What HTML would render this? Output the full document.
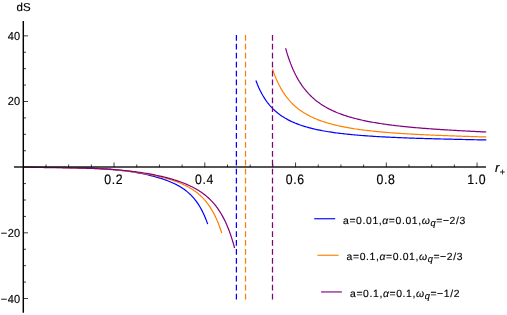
<!DOCTYPE html>
<html><head><meta charset="utf-8"><title>plot</title>
<style>
html,body{margin:0;padding:0;background:#fff;}
body{width:507px;height:315px;overflow:hidden;font-family:"Liberation Sans",sans-serif;}
svg{display:block;}
text{font-family:"Liberation Sans",sans-serif;fill:#000;stroke:#000;stroke-width:0.16px;text-rendering:geometricPrecision;}
</style></head><body>
<svg width="507" height="315" viewBox="0 0 507 315">
<rect width="507" height="315" fill="#ffffff"/>
<g>
<path d="M23.05,167.17 L24.21,167.17 L25.37,167.17 L26.53,167.18 L27.70,167.18 L28.86,167.19 L30.02,167.20 L31.18,167.20 L32.34,167.21 L33.50,167.22 L34.66,167.22 L35.82,167.23 L36.99,167.24 L38.15,167.24 L39.31,167.25 L40.47,167.26 L41.63,167.27 L42.79,167.27 L43.95,167.28 L45.12,167.29 L46.28,167.30 L47.44,167.30 L48.60,167.31 L49.76,167.32 L50.92,167.33 L52.08,167.34 L53.24,167.35 L54.41,167.36 L55.57,167.37 L56.73,167.38 L57.89,167.39 L59.05,167.40 L60.21,167.41 L61.37,167.42 L62.53,167.44 L63.70,167.45 L64.86,167.47 L66.02,167.48 L67.18,167.50 L68.34,167.51 L69.50,167.53 L70.66,167.55 L71.83,167.57 L72.99,167.59 L74.15,167.61 L75.31,167.63 L76.47,167.66 L77.63,167.68 L78.79,167.71 L79.95,167.74 L81.12,167.77 L82.28,167.80 L83.44,167.83 L84.60,167.86 L85.76,167.90 L86.92,167.94 L88.08,167.98 L89.25,168.02 L90.41,168.06 L91.57,168.11 L92.73,168.16 L93.89,168.21 L95.05,168.26 L96.21,168.32 L97.37,168.38 L98.54,168.44 L99.70,168.50 L100.86,168.57 L102.02,168.64 L103.18,168.71 L104.34,168.79 L105.50,168.87 L106.67,168.95 L107.83,169.04 L108.99,169.13 L110.15,169.22 L111.31,169.32 L112.47,169.42 L113.63,169.53 L114.79,169.64 L115.96,169.75 L117.12,169.87 L118.28,169.99 L119.44,170.12 L120.60,170.25 L121.76,170.39 L122.92,170.53 L124.08,170.68 L125.25,170.83 L126.41,170.99 L127.57,171.15 L128.73,171.31 L129.89,171.49 L131.05,171.66 L132.21,171.85 L133.38,172.03 L134.54,172.23 L135.70,172.43 L136.86,172.63 L138.02,172.84 L139.18,173.06 L140.34,173.28 L141.50,173.51 L142.67,173.75 L143.83,173.99 L144.99,174.24 L146.15,174.49 L147.31,174.75 L148.47,175.02 L149.63,175.30 L150.80,175.58 L151.96,175.87 L153.12,176.17 L154.28,176.48 L155.44,176.80 L156.60,177.12 L157.76,177.46 L158.92,177.80 L160.09,178.16 L161.25,178.53 L162.41,178.90 L163.57,179.29 L164.73,179.70 L165.89,180.11 L167.05,180.54 L168.22,180.99 L169.38,181.45 L170.54,181.93 L171.70,182.43 L172.86,182.95 L174.02,183.49 L175.18,184.05 L176.34,184.64 L177.51,185.25 L178.67,185.89 L179.83,186.56 L180.99,187.26 L182.15,188.00 L183.31,188.78 L184.47,189.60 L185.63,190.46 L186.80,191.38 L187.96,192.34 L189.12,193.37 L190.28,194.45 L191.44,195.61 L192.60,196.84 L193.76,198.15 L194.93,199.55 L196.09,201.04 L197.25,202.65 L198.41,204.37 L199.57,206.22 L200.73,208.21 L201.89,210.36 L203.05,212.68 L204.22,215.20 L205.38,217.92 L206.54,220.88 L207.70,224.10" fill="none" stroke="#0000ff" stroke-width="1.2" stroke-linejoin="round"/>
<path d="M255.90,80.57 L257.35,84.30 L258.80,87.67 L260.25,90.72 L261.70,93.51 L263.15,96.05 L264.59,98.39 L266.04,100.54 L267.49,102.52 L268.94,104.35 L270.39,106.05 L271.84,107.63 L273.29,109.11 L274.74,110.48 L276.19,111.77 L277.64,112.97 L279.08,114.10 L280.53,115.16 L281.98,116.16 L283.43,117.10 L284.88,117.99 L286.33,118.83 L287.78,119.63 L289.23,120.38 L290.68,121.10 L292.13,121.78 L293.58,122.42 L295.02,123.04 L296.47,123.62 L297.92,124.18 L299.37,124.71 L300.82,125.22 L302.27,125.70 L303.72,126.16 L305.17,126.61 L306.62,127.03 L308.07,127.44 L309.52,127.83 L310.96,128.20 L312.41,128.56 L313.86,128.91 L315.31,129.24 L316.76,129.56 L318.21,129.86 L319.66,130.16 L321.11,130.44 L322.56,130.72 L324.01,130.98 L325.45,131.23 L326.90,131.48 L328.35,131.72 L329.80,131.95 L331.25,132.17 L332.70,132.38 L334.15,132.59 L335.60,132.79 L337.05,132.98 L338.50,133.17 L339.95,133.35 L341.39,133.52 L342.84,133.69 L344.29,133.86 L345.74,134.02 L347.19,134.17 L348.64,134.32 L350.09,134.46 L351.54,134.61 L352.99,134.74 L354.44,134.88 L355.88,135.00 L357.33,135.13 L358.78,135.25 L360.23,135.37 L361.68,135.49 L363.13,135.60 L364.58,135.71 L366.03,135.81 L367.48,135.92 L368.93,136.02 L370.38,136.11 L371.82,136.21 L373.27,136.30 L374.72,136.39 L376.17,136.48 L377.62,136.57 L379.07,136.65 L380.52,136.73 L381.97,136.81 L383.42,136.89 L384.87,136.97 L386.32,137.04 L387.76,137.11 L389.21,137.18 L390.66,137.25 L392.11,137.32 L393.56,137.39 L395.01,137.45 L396.46,137.51 L397.91,137.58 L399.36,137.64 L400.81,137.70 L402.25,137.75 L403.70,137.81 L405.15,137.87 L406.60,137.92 L408.05,137.98 L409.50,138.03 L410.95,138.08 L412.40,138.13 L413.85,138.18 L415.30,138.23 L416.75,138.28 L418.19,138.32 L419.64,138.37 L421.09,138.41 L422.54,138.46 L423.99,138.50 L425.44,138.55 L426.89,138.59 L428.34,138.63 L429.79,138.67 L431.24,138.71 L432.68,138.75 L434.13,138.79 L435.58,138.83 L437.03,138.87 L438.48,138.90 L439.93,138.94 L441.38,138.98 L442.83,139.01 L444.28,139.05 L445.73,139.09 L447.18,139.12 L448.62,139.15 L450.07,139.19 L451.52,139.22 L452.97,139.26 L454.42,139.29 L455.87,139.32 L457.32,139.35 L458.77,139.39 L460.22,139.42 L461.67,139.45 L463.12,139.48 L464.56,139.51 L466.01,139.54 L467.46,139.58 L468.91,139.61 L470.36,139.64 L471.81,139.67 L473.26,139.70 L474.71,139.73 L476.16,139.76 L477.61,139.79 L479.05,139.82 L480.50,139.84 L481.95,139.87 L483.40,139.90 L484.85,139.93 L486.30,139.96" fill="none" stroke="#0000ff" stroke-width="1.2" stroke-linejoin="round"/>
<path d="M23.05,167.17 L24.30,167.17 L25.55,167.18 L26.80,167.18 L28.05,167.19 L29.30,167.20 L30.55,167.21 L31.80,167.23 L33.05,167.24 L34.30,167.25 L35.55,167.26 L36.80,167.28 L38.05,167.29 L39.30,167.31 L40.55,167.32 L41.80,167.33 L43.04,167.35 L44.29,167.36 L45.54,167.38 L46.79,167.39 L48.04,167.41 L49.29,167.43 L50.54,167.44 L51.79,167.46 L53.04,167.48 L54.29,167.49 L55.54,167.51 L56.79,167.53 L58.04,167.55 L59.29,167.57 L60.54,167.59 L61.79,167.61 L63.04,167.63 L64.29,167.65 L65.54,167.68 L66.79,167.70 L68.04,167.73 L69.29,167.75 L70.54,167.78 L71.79,167.81 L73.04,167.84 L74.29,167.87 L75.54,167.90 L76.79,167.93 L78.04,167.97 L79.29,168.01 L80.54,168.04 L81.79,168.08 L83.03,168.12 L84.28,168.17 L85.53,168.21 L86.78,168.26 L88.03,168.30 L89.28,168.35 L90.53,168.40 L91.78,168.46 L93.03,168.51 L94.28,168.57 L95.53,168.63 L96.78,168.70 L98.03,168.76 L99.28,168.83 L100.53,168.90 L101.78,168.97 L103.03,169.05 L104.28,169.13 L105.53,169.21 L106.78,169.29 L108.03,169.38 L109.28,169.47 L110.53,169.57 L111.78,169.66 L113.03,169.76 L114.28,169.87 L115.53,169.97 L116.78,170.09 L118.03,170.20 L119.28,170.32 L120.53,170.44 L121.78,170.57 L123.02,170.70 L124.27,170.83 L125.52,170.97 L126.77,171.11 L128.02,171.26 L129.27,171.41 L130.52,171.56 L131.77,171.72 L133.02,171.89 L134.27,172.06 L135.52,172.23 L136.77,172.41 L138.02,172.59 L139.27,172.78 L140.52,172.97 L141.77,173.17 L143.02,173.38 L144.27,173.59 L145.52,173.80 L146.77,174.02 L148.02,174.25 L149.27,174.48 L150.52,174.72 L151.77,174.97 L153.02,175.22 L154.27,175.48 L155.52,175.75 L156.77,176.03 L158.02,176.31 L159.27,176.60 L160.52,176.90 L161.77,177.20 L163.01,177.52 L164.26,177.85 L165.51,178.18 L166.76,178.53 L168.01,178.89 L169.26,179.26 L170.51,179.64 L171.76,180.04 L173.01,180.45 L174.26,180.87 L175.51,181.31 L176.76,181.77 L178.01,182.24 L179.26,182.74 L180.51,183.25 L181.76,183.78 L183.01,184.34 L184.26,184.92 L185.51,185.53 L186.76,186.16 L188.01,186.83 L189.26,187.52 L190.51,188.25 L191.76,189.02 L193.01,189.83 L194.26,190.68 L195.51,191.58 L196.76,192.53 L198.01,193.53 L199.26,194.60 L200.51,195.72 L201.76,196.92 L203.00,198.19 L204.25,199.54 L205.50,200.98 L206.75,202.52 L208.00,204.16 L209.25,205.92 L210.50,207.81 L211.75,209.83 L213.00,212.01 L214.25,214.35 L215.50,216.88 L216.75,219.61 L218.00,222.56 L219.25,225.76 L220.50,229.23 L221.75,233.00" fill="none" stroke="#ff8000" stroke-width="1.2" stroke-linejoin="round"/>
<path d="M272.50,69.04 L273.84,72.89 L275.19,76.41 L276.53,79.63 L277.88,82.58 L279.22,85.31 L280.57,87.83 L281.91,90.16 L283.26,92.32 L284.60,94.33 L285.95,96.21 L287.29,97.97 L288.64,99.61 L289.98,101.15 L291.33,102.60 L292.67,103.96 L294.01,105.24 L295.36,106.45 L296.70,107.59 L298.05,108.68 L299.39,109.70 L300.74,110.67 L302.08,111.60 L303.43,112.47 L304.77,113.31 L306.12,114.10 L307.46,114.86 L308.81,115.58 L310.15,116.27 L311.49,116.93 L312.84,117.56 L314.18,118.17 L315.53,118.75 L316.87,119.30 L318.22,119.83 L319.56,120.34 L320.91,120.83 L322.25,121.30 L323.60,121.76 L324.94,122.19 L326.29,122.61 L327.63,123.02 L328.98,123.41 L330.32,123.78 L331.66,124.14 L333.01,124.49 L334.35,124.83 L335.70,125.16 L337.04,125.47 L338.39,125.78 L339.73,126.07 L341.08,126.36 L342.42,126.63 L343.77,126.90 L345.11,127.16 L346.46,127.41 L347.80,127.65 L349.15,127.89 L350.49,128.12 L351.83,128.34 L353.18,128.56 L354.52,128.77 L355.87,128.97 L357.21,129.17 L358.56,129.36 L359.90,129.55 L361.25,129.73 L362.59,129.90 L363.94,130.08 L365.28,130.24 L366.63,130.41 L367.97,130.56 L369.32,130.72 L370.66,130.87 L372.00,131.01 L373.35,131.16 L374.69,131.30 L376.04,131.43 L377.38,131.57 L378.73,131.70 L380.07,131.82 L381.42,131.94 L382.76,132.06 L384.11,132.18 L385.45,132.30 L386.80,132.41 L388.14,132.52 L389.48,132.63 L390.83,132.73 L392.17,132.83 L393.52,132.93 L394.86,133.03 L396.21,133.13 L397.55,133.22 L398.90,133.31 L400.24,133.40 L401.59,133.49 L402.93,133.58 L404.28,133.66 L405.62,133.75 L406.97,133.83 L408.31,133.91 L409.65,133.99 L411.00,134.06 L412.34,134.14 L413.69,134.21 L415.03,134.29 L416.38,134.36 L417.72,134.43 L419.07,134.50 L420.41,134.57 L421.76,134.63 L423.10,134.70 L424.45,134.76 L425.79,134.83 L427.14,134.89 L428.48,134.95 L429.82,135.01 L431.17,135.07 L432.51,135.13 L433.86,135.18 L435.20,135.24 L436.55,135.30 L437.89,135.35 L439.24,135.41 L440.58,135.46 L441.93,135.51 L443.27,135.57 L444.62,135.62 L445.96,135.67 L447.31,135.72 L448.65,135.77 L449.99,135.82 L451.34,135.87 L452.68,135.91 L454.03,135.96 L455.37,136.01 L456.72,136.05 L458.06,136.10 L459.41,136.15 L460.75,136.19 L462.10,136.23 L463.44,136.28 L464.79,136.32 L466.13,136.37 L467.47,136.41 L468.82,136.45 L470.16,136.49 L471.51,136.53 L472.85,136.58 L474.20,136.62 L475.54,136.66 L476.89,136.70 L478.23,136.74 L479.58,136.78 L480.92,136.82 L482.27,136.86 L483.61,136.90 L484.96,136.94 L486.30,136.97" fill="none" stroke="#ff8000" stroke-width="1.2" stroke-linejoin="round"/>
<path d="M23.05,167.17 L24.38,167.18 L25.71,167.19 L27.04,167.21 L28.37,167.24 L29.70,167.27 L31.03,167.30 L32.36,167.32 L33.69,167.35 L35.02,167.38 L36.36,167.40 L37.69,167.43 L39.02,167.45 L40.35,167.47 L41.68,167.50 L43.01,167.52 L44.34,167.54 L45.67,167.55 L47.00,167.57 L48.33,167.59 L49.66,167.61 L50.99,167.63 L52.32,167.64 L53.65,167.66 L54.98,167.68 L56.31,167.69 L57.64,167.71 L58.97,167.73 L60.30,167.75 L61.63,167.77 L62.97,167.79 L64.30,167.81 L65.63,167.83 L66.96,167.85 L68.29,167.87 L69.62,167.89 L70.95,167.92 L72.28,167.94 L73.61,167.97 L74.94,167.99 L76.27,168.02 L77.60,168.05 L78.93,168.08 L80.26,168.11 L81.59,168.15 L82.92,168.18 L84.25,168.22 L85.58,168.26 L86.91,168.30 L88.24,168.34 L89.58,168.38 L90.91,168.43 L92.24,168.47 L93.57,168.52 L94.90,168.58 L96.23,168.63 L97.56,168.69 L98.89,168.75 L100.22,168.81 L101.55,168.87 L102.88,168.94 L104.21,169.01 L105.54,169.09 L106.87,169.16 L108.20,169.24 L109.53,169.33 L110.86,169.41 L112.19,169.50 L113.52,169.60 L114.85,169.69 L116.19,169.80 L117.52,169.90 L118.85,170.01 L120.18,170.13 L121.51,170.24 L122.84,170.37 L124.17,170.49 L125.50,170.62 L126.83,170.76 L128.16,170.90 L129.49,171.05 L130.82,171.20 L132.15,171.36 L133.48,171.52 L134.81,171.69 L136.14,171.86 L137.47,172.04 L138.80,172.22 L140.13,172.42 L141.46,172.61 L142.80,172.81 L144.13,173.02 L145.46,173.24 L146.79,173.46 L148.12,173.69 L149.45,173.93 L150.78,174.17 L152.11,174.42 L153.44,174.68 L154.77,174.94 L156.10,175.22 L157.43,175.50 L158.76,175.79 L160.09,176.08 L161.42,176.39 L162.75,176.70 L164.08,177.03 L165.41,177.36 L166.74,177.70 L168.07,178.06 L169.41,178.42 L170.74,178.80 L172.07,179.18 L173.40,179.58 L174.73,179.99 L176.06,180.42 L177.39,180.85 L178.72,181.31 L180.05,181.77 L181.38,182.26 L182.71,182.76 L184.04,183.28 L185.37,183.81 L186.70,184.37 L188.03,184.95 L189.36,185.55 L190.69,186.18 L192.02,186.83 L193.35,187.51 L194.68,188.22 L196.02,188.96 L197.35,189.74 L198.68,190.55 L200.01,191.40 L201.34,192.30 L202.67,193.24 L204.00,194.22 L205.33,195.27 L206.66,196.36 L207.99,197.53 L209.32,198.75 L210.65,200.06 L211.98,201.44 L213.31,202.90 L214.64,204.47 L215.97,206.13 L217.30,207.91 L218.63,209.80 L219.96,211.83 L221.29,214.01 L222.63,216.35 L223.96,218.87 L225.29,221.58 L226.62,224.50 L227.95,227.66 L229.28,231.08 L230.61,234.79 L231.94,238.83 L233.27,243.21 L234.60,248.00" fill="none" stroke="#800080" stroke-width="1.2" stroke-linejoin="round"/>
<path d="M285.60,48.22 L286.86,52.57 L288.12,56.56 L289.39,60.24 L290.65,63.65 L291.91,66.80 L293.17,69.73 L294.44,72.46 L295.70,75.01 L296.96,77.39 L298.22,79.62 L299.48,81.72 L300.75,83.68 L302.01,85.54 L303.27,87.28 L304.53,88.93 L305.80,90.49 L307.06,91.96 L308.32,93.36 L309.58,94.69 L310.85,95.95 L312.11,97.15 L313.37,98.29 L314.63,99.38 L315.89,100.42 L317.16,101.41 L318.42,102.36 L319.68,103.26 L320.94,104.13 L322.21,104.96 L323.47,105.75 L324.73,106.52 L325.99,107.25 L327.25,107.95 L328.52,108.63 L329.78,109.28 L331.04,109.91 L332.30,110.51 L333.57,111.09 L334.83,111.65 L336.09,112.19 L337.35,112.72 L338.62,113.22 L339.88,113.71 L341.14,114.18 L342.40,114.63 L343.66,115.07 L344.93,115.50 L346.19,115.91 L347.45,116.31 L348.71,116.70 L349.98,117.07 L351.24,117.44 L352.50,117.79 L353.76,118.13 L355.02,118.47 L356.29,118.79 L357.55,119.10 L358.81,119.41 L360.07,119.70 L361.34,119.99 L362.60,120.27 L363.86,120.55 L365.12,120.81 L366.38,121.07 L367.65,121.32 L368.91,121.57 L370.17,121.81 L371.43,122.04 L372.70,122.27 L373.96,122.49 L375.22,122.71 L376.48,122.92 L377.75,123.13 L379.01,123.33 L380.27,123.53 L381.53,123.72 L382.79,123.91 L384.06,124.09 L385.32,124.27 L386.58,124.45 L387.84,124.62 L389.11,124.79 L390.37,124.95 L391.63,125.11 L392.89,125.27 L394.15,125.43 L395.42,125.58 L396.68,125.73 L397.94,125.87 L399.20,126.01 L400.47,126.15 L401.73,126.29 L402.99,126.43 L404.25,126.56 L405.52,126.69 L406.78,126.81 L408.04,126.94 L409.30,127.06 L410.56,127.18 L411.83,127.30 L413.09,127.41 L414.35,127.53 L415.61,127.64 L416.88,127.75 L418.14,127.86 L419.40,127.97 L420.66,128.07 L421.92,128.17 L423.19,128.28 L424.45,128.38 L425.71,128.47 L426.97,128.57 L428.24,128.67 L429.50,128.76 L430.76,128.85 L432.02,128.94 L433.28,129.03 L434.55,129.12 L435.81,129.21 L437.07,129.30 L438.33,129.38 L439.60,129.47 L440.86,129.55 L442.12,129.63 L443.38,129.71 L444.65,129.79 L445.91,129.87 L447.17,129.95 L448.43,130.02 L449.69,130.10 L450.96,130.18 L452.22,130.25 L453.48,130.32 L454.74,130.40 L456.01,130.47 L457.27,130.54 L458.53,130.61 L459.79,130.68 L461.05,130.75 L462.32,130.82 L463.58,130.89 L464.84,130.95 L466.10,131.02 L467.37,131.09 L468.63,131.15 L469.89,131.22 L471.15,131.28 L472.42,131.34 L473.68,131.41 L474.94,131.47 L476.20,131.53 L477.46,131.59 L478.73,131.66 L479.99,131.72 L481.25,131.78 L482.51,131.84 L483.78,131.90 L485.04,131.96 L486.30,132.02" fill="none" stroke="#800080" stroke-width="1.2" stroke-linejoin="round"/>
<line x1="236.4" x2="236.4" y1="34.95" y2="299.4" stroke="#0000ff" stroke-width="1.25" stroke-dasharray="5.75 3.17"/>
<line x1="245.55" x2="245.55" y1="34.95" y2="299.4" stroke="#ff8000" stroke-width="1.25" stroke-dasharray="5.75 3.17"/>
<line x1="272.5" x2="272.5" y1="34.95" y2="299.4" stroke="#800080" stroke-width="1.25" stroke-dasharray="5.75 3.17"/>
<line x1="314.2" x2="335.2" y1="218.75" y2="218.75" stroke="#0000ff" stroke-width="1.15"/>
<line x1="317.4" x2="338.6" y1="255.25" y2="255.25" stroke="#ff8000" stroke-width="1.15"/>
<line x1="321.1" x2="341.9" y1="291.95" y2="291.95" stroke="#800080" stroke-width="1.15"/>
</g>
<g>
<line x1="14" x2="486" y1="167.05" y2="167.05" stroke="#1c1c1c" stroke-width="1.6"/>
<line x1="23.3" x2="23.3" y1="21" y2="312.7" stroke="#000000" stroke-width="1.45"/>
<line x1="45.99" x2="45.99" y1="167.17" y2="164.47" stroke="#000000" stroke-width="0.75"/>
<line x1="68.67" x2="68.67" y1="167.17" y2="164.47" stroke="#000000" stroke-width="0.75"/>
<line x1="91.36" x2="91.36" y1="167.17" y2="164.47" stroke="#000000" stroke-width="0.75"/>
<line x1="114.05" x2="114.05" y1="167.17" y2="162.47" stroke="#000000" stroke-width="0.75"/>
<line x1="136.74" x2="136.74" y1="167.17" y2="164.47" stroke="#000000" stroke-width="0.75"/>
<line x1="159.43" x2="159.43" y1="167.17" y2="164.47" stroke="#000000" stroke-width="0.75"/>
<line x1="182.11" x2="182.11" y1="167.17" y2="164.47" stroke="#000000" stroke-width="0.75"/>
<line x1="204.80" x2="204.80" y1="167.17" y2="162.47" stroke="#000000" stroke-width="0.75"/>
<line x1="227.49" x2="227.49" y1="167.17" y2="164.47" stroke="#000000" stroke-width="0.75"/>
<line x1="250.18" x2="250.18" y1="167.17" y2="164.47" stroke="#000000" stroke-width="0.75"/>
<line x1="272.86" x2="272.86" y1="167.17" y2="164.47" stroke="#000000" stroke-width="0.75"/>
<line x1="295.55" x2="295.55" y1="167.17" y2="162.47" stroke="#000000" stroke-width="0.75"/>
<line x1="318.24" x2="318.24" y1="167.17" y2="164.47" stroke="#000000" stroke-width="0.75"/>
<line x1="340.93" x2="340.93" y1="167.17" y2="164.47" stroke="#000000" stroke-width="0.75"/>
<line x1="363.61" x2="363.61" y1="167.17" y2="164.47" stroke="#000000" stroke-width="0.75"/>
<line x1="386.30" x2="386.30" y1="167.17" y2="162.47" stroke="#000000" stroke-width="0.75"/>
<line x1="408.99" x2="408.99" y1="167.17" y2="164.47" stroke="#000000" stroke-width="0.75"/>
<line x1="431.68" x2="431.68" y1="167.17" y2="164.47" stroke="#000000" stroke-width="0.75"/>
<line x1="454.36" x2="454.36" y1="167.17" y2="164.47" stroke="#000000" stroke-width="0.75"/>
<line x1="477.05" x2="477.05" y1="167.17" y2="162.47" stroke="#000000" stroke-width="0.75"/>
<line x1="23.3" x2="28.0" y1="298.49" y2="298.49" stroke="#000000" stroke-width="0.75"/>
<line x1="23.3" x2="26.0" y1="282.07" y2="282.07" stroke="#000000" stroke-width="0.75"/>
<line x1="23.3" x2="26.0" y1="265.66" y2="265.66" stroke="#000000" stroke-width="0.75"/>
<line x1="23.3" x2="26.0" y1="249.25" y2="249.25" stroke="#000000" stroke-width="0.75"/>
<line x1="23.3" x2="28.0" y1="232.83" y2="232.83" stroke="#000000" stroke-width="0.75"/>
<line x1="23.3" x2="26.0" y1="216.41" y2="216.41" stroke="#000000" stroke-width="0.75"/>
<line x1="23.3" x2="26.0" y1="200.00" y2="200.00" stroke="#000000" stroke-width="0.75"/>
<line x1="23.3" x2="26.0" y1="183.58" y2="183.58" stroke="#000000" stroke-width="0.75"/>
<line x1="23.3" x2="26.0" y1="150.75" y2="150.75" stroke="#000000" stroke-width="0.75"/>
<line x1="23.3" x2="26.0" y1="134.34" y2="134.34" stroke="#000000" stroke-width="0.75"/>
<line x1="23.3" x2="26.0" y1="117.92" y2="117.92" stroke="#000000" stroke-width="0.75"/>
<line x1="23.3" x2="28.0" y1="101.51" y2="101.51" stroke="#000000" stroke-width="0.75"/>
<line x1="23.3" x2="26.0" y1="85.09" y2="85.09" stroke="#000000" stroke-width="0.75"/>
<line x1="23.3" x2="26.0" y1="68.68" y2="68.68" stroke="#000000" stroke-width="0.75"/>
<line x1="23.3" x2="26.0" y1="52.26" y2="52.26" stroke="#000000" stroke-width="0.75"/>
<line x1="23.3" x2="28.0" y1="35.85" y2="35.85" stroke="#000000" stroke-width="0.75"/>
</g>
<g style="will-change:opacity" opacity="0.999">
<text transform="translate(113.70,183.6) scale(1,1.12)" x="0" y="0" font-size="12.3" text-anchor="middle" letter-spacing="0.6">0.2</text>
<text transform="translate(204.45,183.6) scale(1,1.12)" x="0" y="0" font-size="12.3" text-anchor="middle" letter-spacing="0.6">0.4</text>
<text transform="translate(295.20,183.6) scale(1,1.12)" x="0" y="0" font-size="12.3" text-anchor="middle" letter-spacing="0.6">0.6</text>
<text transform="translate(385.95,183.6) scale(1,1.12)" x="0" y="0" font-size="12.3" text-anchor="middle" letter-spacing="0.6">0.8</text>
<text transform="translate(476.70,183.6) scale(1,1.12)" x="0" y="0" font-size="12.3" text-anchor="middle" letter-spacing="0.6">1.0</text>
<text transform="translate(20.1,39.95) scale(1,1.06)" x="0" y="0" font-size="11" text-anchor="end">40</text>
<text transform="translate(20.1,105.01) scale(1,1.06)" x="0" y="0" font-size="11" text-anchor="end">20</text>
<text transform="translate(20.1,236.93) scale(1,1.06)" x="0" y="0" font-size="11" text-anchor="end">−<tspan dx="0.7">20</tspan></text>
<text transform="translate(20.1,302.59) scale(1,1.06)" x="0" y="0" font-size="11" text-anchor="end">−<tspan dx="0.7">40</tspan></text>
<text x="16.6" y="11.4" font-size="11.5">dS</text>
<text x="495" y="171.6" font-size="13" font-style="italic">r<tspan font-size="9" font-style="normal" dx="0.3" dy="3.8">+</tspan></text>
<text x="343.0" y="223.5" font-size="10.4" letter-spacing="0.62">a=0.01,<tspan font-style="italic">α</tspan>=0.01,<tspan font-style="italic">ω</tspan><tspan font-style="italic" font-size="9.2" dy="2.4">q</tspan><tspan dy="-2.4">=−2/3</tspan></text>
<text x="346.6" y="260.0" font-size="10.4" letter-spacing="0.62">a=0.1,<tspan font-style="italic">α</tspan>=0.01,<tspan font-style="italic">ω</tspan><tspan font-style="italic" font-size="9.2" dy="2.4">q</tspan><tspan dy="-2.4">=−2/3</tspan></text>
<text x="350.0" y="296.7" font-size="10.4" letter-spacing="0.62">a=0.1,<tspan font-style="italic">α</tspan>=0.1,<tspan font-style="italic">ω</tspan><tspan font-style="italic" font-size="9.2" dy="2.4">q</tspan><tspan dy="-2.4">=−1/2</tspan></text>
</g>
</svg>
</body></html>
